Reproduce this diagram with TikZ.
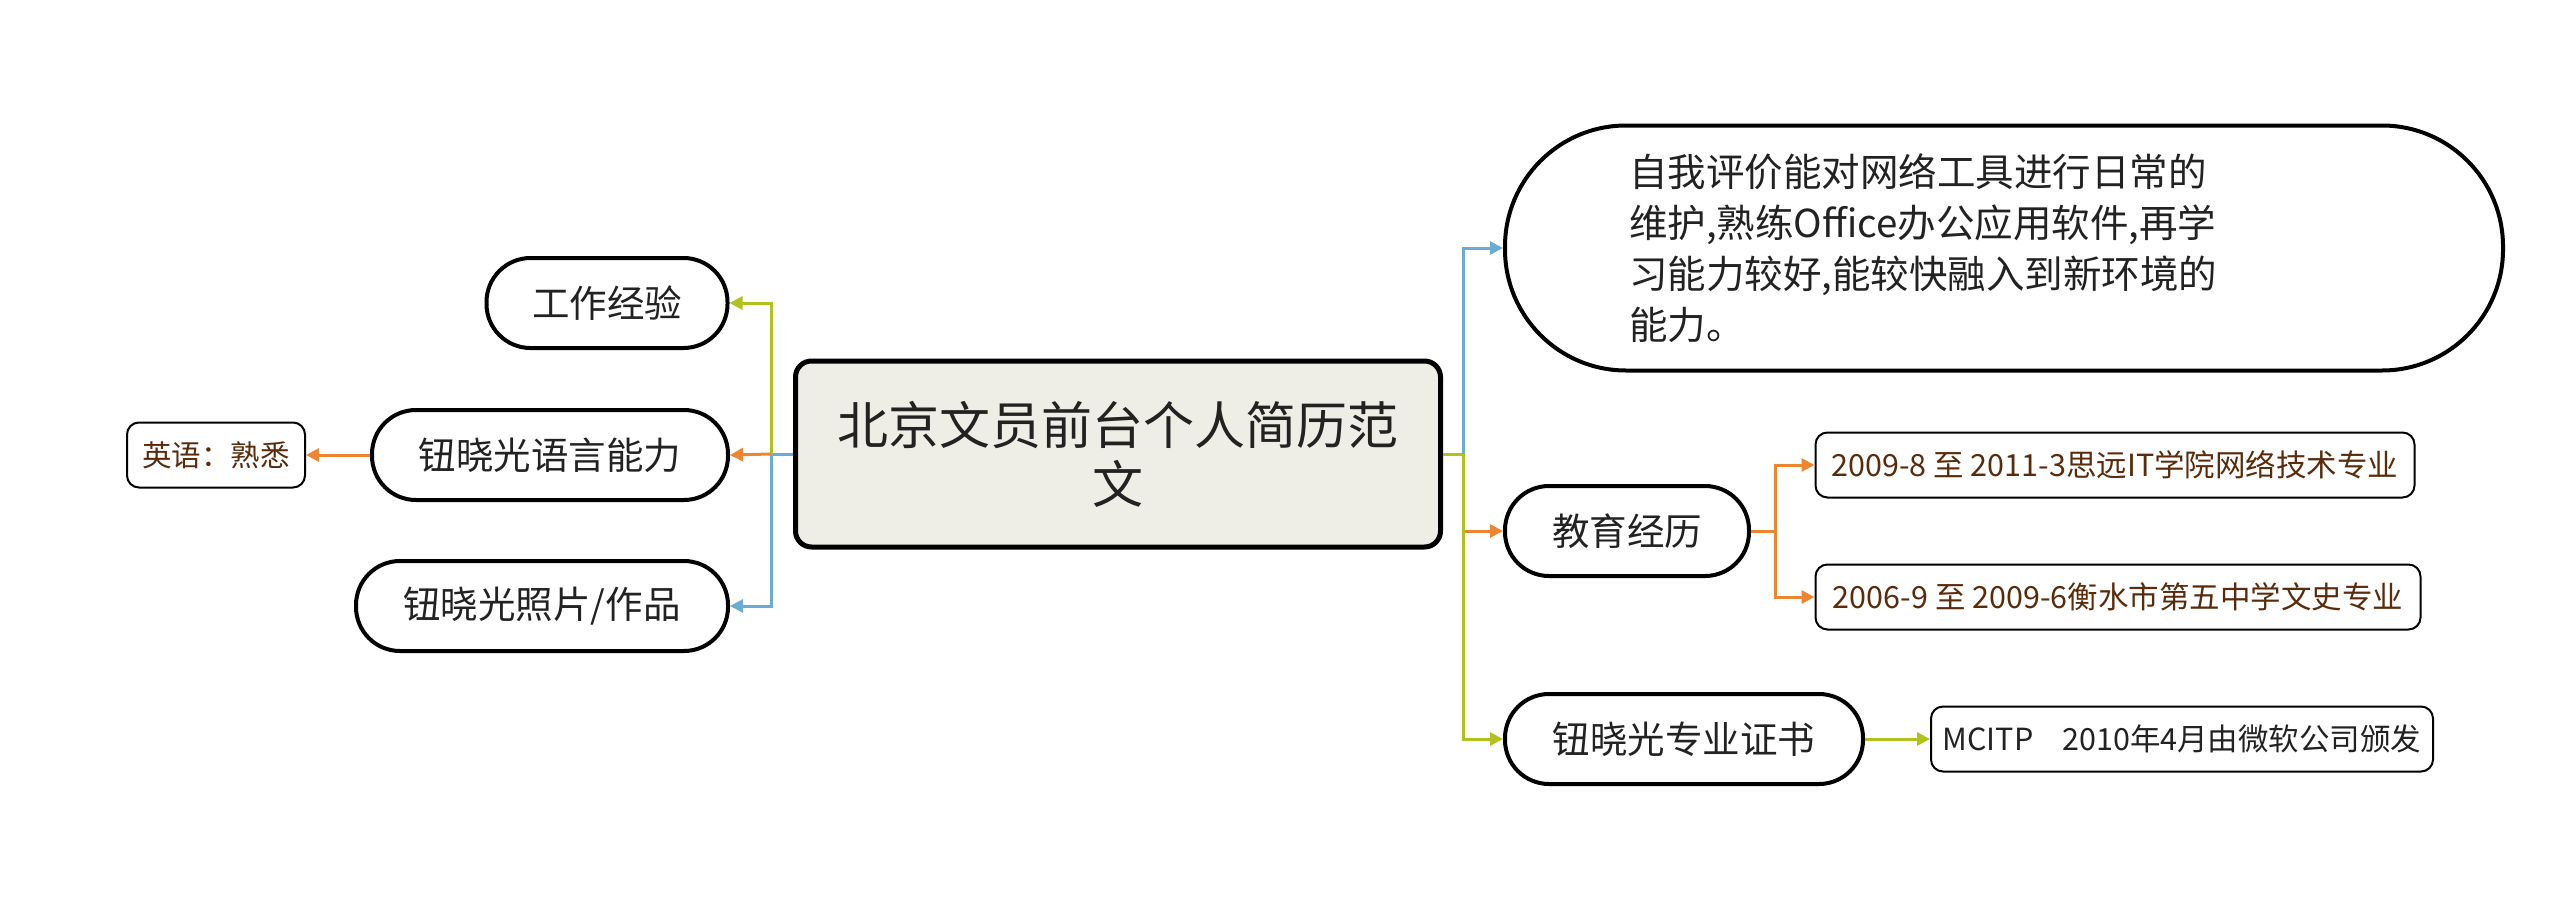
\documentclass[tikz,border=0pt]{standalone}
\usepackage{fontspec}
\setmainfont{Noto Sans CJK SC}
\usetikzlibrary{arrows.meta}
\definecolor{cgreen}{HTML}{B2C11E}
\definecolor{corange}{HTML}{EE8530}
\definecolor{cblue}{HTML}{6AACD3}
\definecolor{cbrown}{HTML}{5A2C0C}
\definecolor{ctext}{HTML}{222222}
\definecolor{cfill}{HTML}{EFEEE6}
\tikzset{
  topic/.style={draw=black, line width=4pt, rounded corners=44pt, minimum height=90pt,
    inner sep=0pt, text=ctext, font=\fontsize{37.5}{45}\selectfont},
  leaf/.style={draw=black, line width=2pt, rounded corners=12pt, minimum height=65pt,
    inner sep=0pt, text=cbrown, font=\fontsize{30.5}{36}\selectfont},
  conn/.style={line width=3pt},
  arr/.style={line width=3pt, -{Triangle[length=13pt,width=13pt]}},
}
\begin{document}
\begin{tikzpicture}[x=1pt,y=-1pt]
\useasboundingbox (0,0) rectangle (2560,910);
% central
\node[draw=black, line width=5pt, rounded corners=16pt, fill=cfill, minimum width=645pt,
  minimum height=186pt, inner sep=0pt, align=center, text=ctext,
  font=\fontsize{51}{59}\selectfont] (center) at (1118,454) {北京文员前台个人简历范\\文};
% left topics
\node[topic, minimum width=241pt] (work) at (607,303) {工作经验};
\node[topic, minimum width=356pt] (lang) at (550,455) {钮晓光语言能力};
\node[topic, minimum width=372pt] (photo) at (542,606) {钮晓光照片/作品};
\node[leaf, minimum width=178pt, font=\fontsize{29.5}{35}\selectfont] (eng) at (216,455) {英语：熟悉};
% right topics
\node[topic, rounded corners=121pt, minimum width=998pt, minimum height=245pt,
  text width=750pt, align=left, font=\fontsize{38.5}{51}\selectfont] (self) at (2004,248)
  {自我评价能对网络工具进行日常的\\维护,熟练Office办公应用软件,再学\\习能力较好,能较快融入到新环境的\\能力。};
\node[topic, minimum width=244pt] (edu) at (1627,531) {教育经历};
\node[topic, minimum width=358pt] (cert) at (1684,739) {钮晓光专业证书};
\node[leaf, minimum width=599pt] (e1) at (2115,465) {2009-8 至 2011-3思远IT学院网络技术专业};
\node[leaf, minimum width=605pt] (e2) at (2118,597) {2006-9 至 2009-6衡水市第五中学文史专业};
\node[leaf, minimum width=502pt, text=ctext] (mc) at (2182,739) {MCITP\hspace{29pt}2010年4月由微软公司颁发};
% left connectors
\coordinate (lbus) at (771,454);
\draw[conn, cblue] (center.west) -- (lbus);
\draw[arr, cgreen] (lbus) |- (work.east);
\draw[arr, cblue] (lbus) |- (photo.east);
\draw[arr, corange] (lbus) -- (lang.east);
\draw[arr, corange] (lang.west) -- (eng.east);
% right connectors
\coordinate (rbus) at (1463,454);
\draw[conn, cgreen] (center.east) -- (rbus);
\draw[arr, cblue] (rbus) |- (self.west);
\draw[arr, corange] (rbus) |- (edu.west);
\draw[arr, cgreen] (rbus) |- (cert.west);
\coordinate (ebus) at (1775,531);
\draw[conn, corange] (edu.east) -- (ebus);
\draw[arr, corange] (ebus) |- (e1.west);
\draw[arr, corange] (ebus) |- (e2.west);
\draw[arr, cgreen] (cert.east) -- (mc.west);
\end{tikzpicture}
\end{document}
